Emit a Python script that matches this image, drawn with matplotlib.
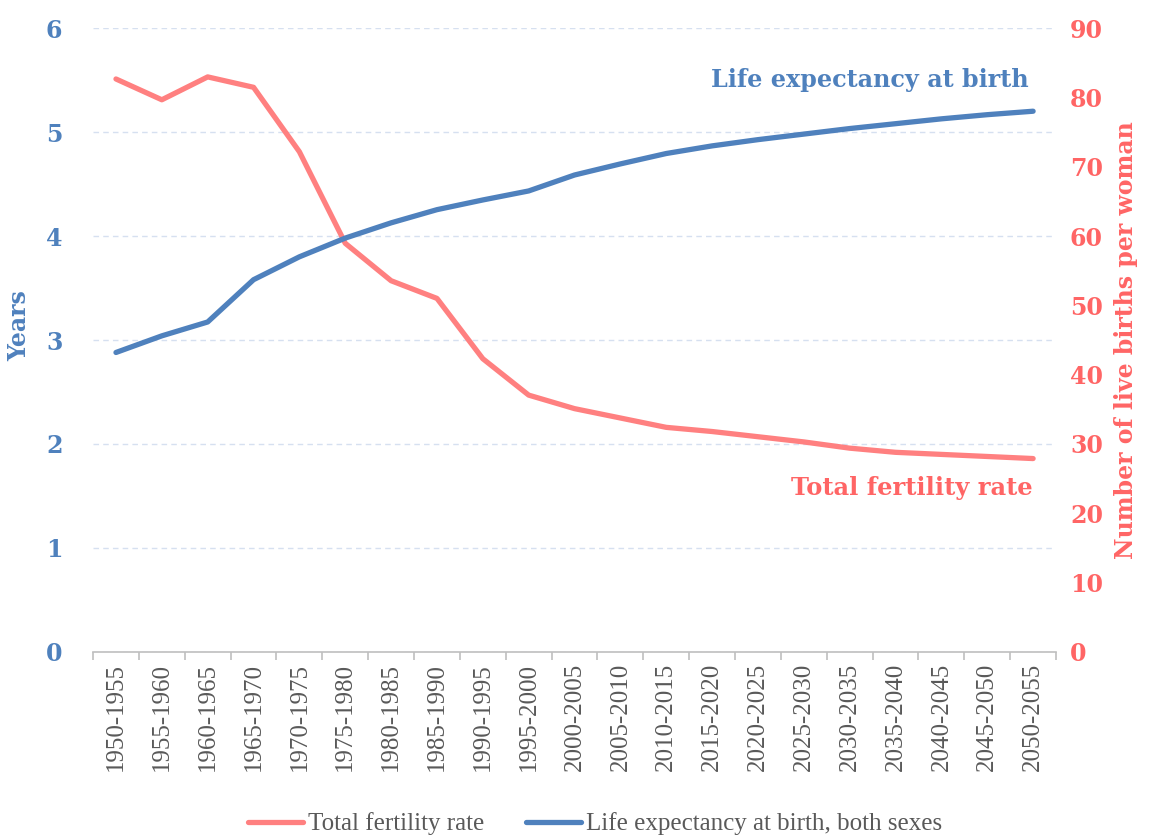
import matplotlib.pyplot as plt
import numpy as np

periods = ["1950-1955", "1955-1960", "1960-1965", "1965-1970", "1970-1975",
           "1975-1980", "1980-1985", "1985-1990", "1990-1995", "1995-2000",
           "2000-2005", "2005-2010", "2010-2015", "2015-2020", "2020-2025",
           "2025-2030", "2030-2035", "2035-2040", "2040-2045", "2045-2050",
           "2050-2055"]
fertility = [5.51, 5.31, 5.53, 5.43, 4.81, 3.93, 3.57, 3.40, 2.82, 2.47,
             2.34, 2.25, 2.16, 2.12, 2.07, 2.02, 1.96, 1.92, 1.90, 1.88, 1.86]
life_exp = [43.2, 45.6, 47.6, 53.7, 57.0, 59.7, 61.9, 63.8, 65.2, 66.5,
            68.8, 70.4, 71.9, 73.0, 73.9, 74.7, 75.5, 76.2, 76.9, 77.5, 78.0]

blue = "#4F81BD"
red_line = "#FF8080"
red_txt = "#FF6565"
grey = "#595959"
serif = ["DejaVu Serif"]

fig = plt.figure(figsize=(11.53, 8.39), dpi=100)
ax = fig.add_axes([0.0807, 0.2229, 0.8352, 0.7437])
ax2 = ax.twinx()

x = np.arange(len(periods))
l1, = ax.plot(x, fertility, color=red_line, lw=3.8, solid_capstyle="round",
              label="Total fertility rate", zorder=3)
l2, = ax2.plot(x, life_exp, color=blue, lw=3.8, solid_capstyle="round",
               label="Life expectancy at birth, both sexes", zorder=3)

ax.set_xlim(-0.5, len(periods) - 0.5)
ax.set_ylim(0, 6)
ax2.set_ylim(0, 90)
ax.set_yticks(range(0, 7))
ax2.set_yticks(range(0, 91, 10))
ax.grid(axis="y", color="#D6E0F0", ls=(0, (4, 3)), lw=1)
ax.set_axisbelow(True)

ax.set_xticks(x)
ax.set_xticklabels(periods, rotation=90, fontsize=18, color=grey, family="Liberation Serif")
ax.set_xticks(np.arange(-0.5, len(periods)), minor=True)
ax.tick_params(axis="x", which="major", length=0, pad=8)
ax.tick_params(axis="x", which="minor", length=6, color="#BFBFBF", width=1.2)

for s in ["top", "left", "right"]:
    ax.spines[s].set_visible(False)
    ax2.spines[s].set_visible(False)
ax2.spines["bottom"].set_visible(False)
ax.spines["bottom"].set_color("#BFBFBF")
ax.spines["bottom"].set_linewidth(1.2)

ax.tick_params(axis="y", length=0, pad=22)
ax2.tick_params(axis="y", length=0, pad=10)
for t in ax.get_yticklabels():
    t.set_color(blue); t.set_fontsize(17); t.set_fontweight("bold"); t.set_family(serif)
for t in ax2.get_yticklabels():
    t.set_color(red_txt); t.set_fontsize(17); t.set_fontweight("bold"); t.set_family(serif)

ax.set_ylabel("Years", color=blue, fontsize=17, fontweight="bold", family=serif)
ax.yaxis.set_label_coords(-0.064, 0.5225)
ax2.set_ylabel("Number of live births per woman", color=red_txt, fontsize=17,
               fontweight="bold", family=serif, labelpad=8)

ax.text(19.9, 5.50, "Life expectancy at birth", color=blue, fontsize=17.2,
        fontweight="bold", family=serif, ha="right", va="center")
ax.text(20.0, 1.58, "Total fertility rate", color=red_txt, fontsize=17.4,
        fontweight="bold", family=serif, ha="right", va="center")

fig.legend(handles=[l1, l2], loc="center", ncol=2, frameon=False,
           bbox_to_anchor=(0.516, 0.018), prop={"family": "Liberation Serif", "size": 18},
           labelcolor=grey, handlelength=2.2, columnspacing=1.7, handletextpad=0.2)

fig.savefig("out.png", dpi=100)
